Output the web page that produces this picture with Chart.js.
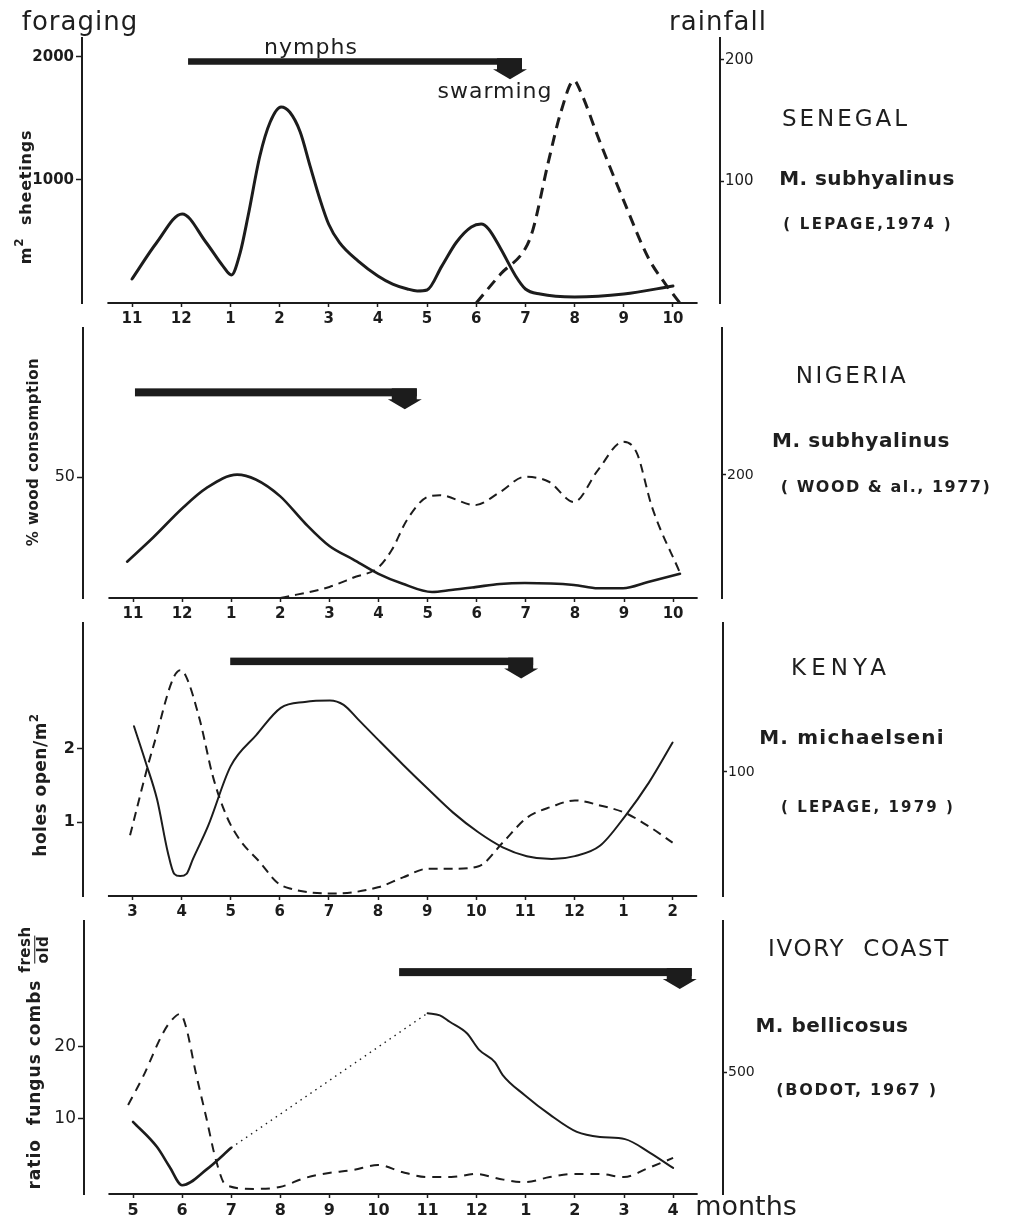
<!DOCTYPE html>
<html><head><meta charset="utf-8">
<script src="https://cdn.jsdelivr.net/npm/chart.js@4/dist/chart.umd.min.js"></script>
<style>
html,body{margin:0;padding:0;background:#fff;}
body{width:1011px;height:1220px;position:relative;overflow:hidden;font-family:"DejaVu Sans",sans-serif;color:#1e1e1e;}
canvas{position:absolute;left:0;}
.t{position:absolute;transform:translate(-50%,-50%);white-space:nowrap;line-height:1;}
.r{transform:translate(-50%,-50%) rotate(-90deg);}
.b{font-weight:bold;}
</style></head><body>
<canvas id="c1"></canvas>
<canvas id="c2"></canvas>
<canvas id="c3"></canvas>
<canvas id="c4"></canvas>

<div class="t" style="left:80px;top:21px;font-size:26px;letter-spacing:1px;">foraging</div>
<div class="t" style="left:718px;top:21px;font-size:26px;letter-spacing:1px;">rainfall</div>
<div class="t" style="left:311px;top:47px;font-size:22px;letter-spacing:1px;">nymphs</div>
<div class="t" style="left:495px;top:91px;font-size:22px;letter-spacing:1px;">swarming</div>
<div class="t" style="left:746px;top:1205px;font-size:27px;">months</div>

<div class="t" style="left:846px;top:118px;font-size:23px;letter-spacing:3px;">SENEGAL</div>
<div class="t b" style="left:867px;top:178px;font-size:20px;letter-spacing:0.4px;">M. subhyalinus</div>
<div class="t b" style="left:868px;top:224px;font-size:15px;letter-spacing:2.3px;">( LEPAGE,1974 )</div>

<div class="t" style="left:852px;top:375px;font-size:23px;letter-spacing:2.5px;">NIGERIA</div>
<div class="t b" style="left:861px;top:440px;font-size:20px;letter-spacing:0.6px;">M. subhyalinus</div>
<div class="t b" style="left:886px;top:487px;font-size:16px;letter-spacing:1.5px;">( WOOD &amp; al., 1977)</div>

<div class="t" style="left:841px;top:667px;font-size:23px;letter-spacing:5px;">KENYA</div>
<div class="t b" style="left:852px;top:737px;font-size:20px;letter-spacing:1.2px;">M. michaelseni</div>
<div class="t b" style="left:868px;top:807px;font-size:15px;letter-spacing:2.1px;">( LEPAGE, 1979 )</div>

<div class="t" style="left:859px;top:948px;font-size:23px;letter-spacing:1.7px;">IVORY&nbsp; COAST</div>
<div class="t b" style="left:832px;top:1025px;font-size:20px;letter-spacing:0.5px;">M. bellicosus</div>
<div class="t b" style="left:857px;top:1090px;font-size:16px;letter-spacing:1.7px;">(BODOT, 1967 )</div>

<div class="t r b" style="left:23px;top:197px;font-size:16px;letter-spacing:0.8px;">m<span style="font-size:12px;vertical-align:8px;">2</span>&nbsp; sheetings</div>
<div class="t r b" style="left:33px;top:452px;font-size:15px;letter-spacing:0.5px;">% wood consomption</div>
<div class="t r b" style="left:38px;top:785px;font-size:17px;letter-spacing:0.5px;">holes open/m<span style="font-size:12px;vertical-align:8px;">2</span></div>
<div class="t r b" style="left:35px;top:1058px;font-size:17px;display:flex;align-items:center;letter-spacing:1px;">ratio&nbsp; fungus combs&nbsp;<span style="display:inline-flex;flex-direction:column;align-items:center;font-size:15px;line-height:1.05;letter-spacing:0.5px;"><span>fresh</span><span style="border-top:1.5px solid #1e1e1e;padding-top:1px;">old</span></span></div>

<script>
// ================= DATA (month index along x, value on its own axis) =================
// Senegal, M. subhyalinus (LEPAGE, 1974)
const SENEGAL_MONTHS = ['11','12','1','2','3','4','5','6','7','8','9','10'];
const SENEGAL_FORAGING_TICKS = [1000, 2000];
const SENEGAL_RAIN_TICKS = [100, 200];
const SENEGAL_FORAGING = [[0,195],[0.5,490],[1.02,724],[1.5,496],[1.85,300],[2.02,228],[2.2,410],[2.36,707],[2.6,1195],[2.81,1471],[3.03,1593],[3.21,1550],[3.42,1390],[3.62,1115],[3.82,845],[4.0,640],[4.22,490],[4.6,340],[5.0,220],[5.3,154],[5.6,114],[5.8,98],[6.0,106],[6.3,300],[6.6,496],[6.9,618],[7.1,642],[7.25,602],[7.5,439],[7.8,220],[8.0,114],[8.3,73],[9.0,49],[10.0,73],[11.0,138]];
const SENEGAL_RAIN = [[7,0],[7.5,24],[8,45],[8.15,60],[8.46,115],[8.72,157],[8.99,183],[9.11,175],[9.5,134],[10,84],[10.5,37],[10.84,16],[11.14,0]];
const SENEGAL_NYMPHS = [1.14, 7.93];

// Nigeria, M. subhyalinus (WOOD & al., 1977)
const NIGERIA_MONTHS = ['11','12','1','2','3','4','5','6','7','8','9','10'];
const NIGERIA_WOOD_TICKS = [50];
const NIGERIA_RAIN_TICKS = [200];
const NIGERIA_WOOD = [[-0.12,15],[0.41,25],[1.0,37],[1.5,45.5],[2.12,51],[2.5,49],[3.0,42],[3.5,31],[4.0,21.5],[4.48,16],[5.0,10],[5.48,6],[6.09,2.5],[6.48,3.3],[6.97,4.5],[7.47,5.8],[7.98,6.2],[8.98,5.4],[9.47,4],[9.98,4],[10.49,6.6],[11.14,10]];
const NIGERIA_RAIN = [[3.0,0],[4.0,18],[4.48,33],[5.0,50],[5.27,78],[5.58,127],[5.99,164],[6.25,167],[6.97,151],[7.47,172],[7.98,197],[8.47,189],[8.98,156],[9.47,208],[9.98,254],[10.26,236],[10.57,148],[11.14,41]];
const NIGERIA_NYMPHS = [0.04, 5.78];

// Kenya, M. michaelseni (LEPAGE, 1979)
const KENYA_MONTHS = ['3','4','5','6','7','8','9','10','11','12','1','2'];
const KENYA_HOLES_TICKS = [1, 2];
const KENYA_RAIN_TICKS = [100];
const KENYA_HOLES = [[0.03,2.30],[0.27,1.81],[0.5,1.31],[0.72,0.59],[0.85,0.3],[0.97,0.27],[1.1,0.3],[1.23,0.5],[1.54,0.95],[2.0,1.76],[2.52,2.18],[3.02,2.55],[3.51,2.63],[4.02,2.65],[4.3,2.59],[4.6,2.39],[5.0,2.12],[5.51,1.78],[6.02,1.45],[6.53,1.13],[7.05,0.86],[7.54,0.66],[8.03,0.54],[8.54,0.50],[9.01,0.54],[9.52,0.68],[10.03,1.08],[10.52,1.54],[11.0,2.08]];
const KENYA_RAIN = [[-0.05,49],[0.42,120],[0.97,182],[1.09,177],[1.37,142],[1.64,96],[1.92,64],[2.19,45],[2.6,27],[2.94,11],[3.21,6],[4.09,2],[5.0,7],[5.51,15],[6.02,22],[6.53,22],[7.05,24],[7.54,43],[8.03,63],[8.54,72],[9.01,77],[9.52,73],[10.03,67],[10.52,56],[11.0,43]];
const KENYA_NYMPHS = [1.99, 8.16];

// Ivory Coast, M. bellicosus (BODOT, 1967)
const IVORY_MONTHS = ['5','6','7','8','9','10','11','12','1','2','3','4'];
const IVORY_RATIO_TICKS = [10, 20];
const IVORY_RAIN_TICKS = [500];
const IVORY_RATIO_EARLY = [[0,9.6],[0.49,6.1],[0.75,3.3],[1.0,0.8],[1.5,3.0],[2.0,6.0]];
const IVORY_RATIO_GAP = [[2.0,6.0],[6.0,24.7]];
const IVORY_RATIO_LATE = [[6.0,24.7],[6.25,24.4],[6.45,23.5],[6.8,21.9],[7.05,19.6],[7.37,17.9],[7.53,16.1],[7.98,13.3],[8.49,10.6],[9.04,8.2],[9.51,7.5],[10.02,7.2],[10.53,5.3],[11.0,3.2]];
const IVORY_RAIN = [[-0.1,364],[0.2,479],[0.59,653],[0.75,705],[0.96,740],[1.08,686],[1.28,496],[1.49,314],[1.69,136],[1.89,33],[2.48,17],[2.99,25],[3.5,62],[3.99,83],[4.48,95],[4.99,116],[5.48,87],[5.99,66],[6.48,66],[6.99,79],[7.47,58],[7.98,45],[8.49,66],[8.98,79],[9.49,79],[10.0,66],[10.49,103],[11.0,145]];
const IVORY_NYMPHS = [5.42, 11.38];

// ================= RENDERING =================
const INK = '#1c1c1c';
const FONT = '"DejaVu Sans", sans-serif';

const xAxisLine = {
  id: 'xAxisLine',
  beforeDatasetsDraw(chart, args, o) {
    const {ctx, chartArea, scales} = chart;
    const x = scales.x;
    ctx.save();
    ctx.strokeStyle = INK; ctx.lineWidth = 2;
    ctx.beginPath();
    ctx.moveTo(x.getPixelForValue(o.from), chartArea.bottom);
    ctx.lineTo(x.getPixelForValue(o.to), chartArea.bottom);
    ctx.stroke();
    ctx.restore();
  }
};

const periodArrow = {
  id: 'periodArrow',
  afterDatasetsDraw(chart, args, o) {
    const {ctx, scales} = chart;
    const x1 = scales.x.getPixelForValue(o.from);
    const x2 = scales.x.getPixelForValue(o.to);
    const yc = scales.y.getPixelForValue(o.level);
    const T = yc - o.thickness / 2;
    ctx.save();
    ctx.fillStyle = INK;
    ctx.fillRect(x1, T, x2 - x1, o.thickness);
    ctx.fillRect(x2 - 25, T, 25, 12);
    ctx.beginPath();
    ctx.moveTo(x2 - 29, T + 11);
    ctx.lineTo(x2 + 5, T + 11);
    ctx.lineTo(x2 - 12, T + 21);
    ctx.closePath();
    ctx.fill();
    ctx.restore();
  }
};

const toXY = arr => arr.map(([x, y]) => ({x, y}));

const PANELS = [
  { id:'c1', top:0, height:330, left:82, right:720, areaTop:38, areaBottom:303, x0:132, step:49.18,
    yMin:0, yMax:2154, y2Min:0, y2Max:218,
    months:SENEGAL_MONTHS, yTicks:SENEGAL_FORAGING_TICKS, y2Ticks:SENEGAL_RAIN_TICKS,
    solid:[SENEGAL_FORAGING], dotted:null, dashed:SENEGAL_RAIN, nymphs:SENEGAL_NYMPHS,
    level:1963, thick:6.5, solidW:3, dashW:3, dash:[11,7],
    yFont:{size:15, weight:'bold'}, y2Font:{size:15}, xFont:{size:15, weight:'bold'} },
  { id:'c2', top:312, height:318, left:83, right:722, areaTop:328, areaBottom:598, x0:133, step:49.1,
    yMin:0, yMax:111.6, y2Min:0, y2Max:439,
    months:NIGERIA_MONTHS, yTicks:NIGERIA_WOOD_TICKS, y2Ticks:NIGERIA_RAIN_TICKS,
    solid:[NIGERIA_WOOD], dotted:null, dashed:NIGERIA_RAIN, nymphs:NIGERIA_NYMPHS,
    level:85, thick:8, solidW:2.6, dashW:2, dash:[9,6],
    yFont:{size:16}, y2Font:{size:14}, xFont:{size:15, weight:'bold'} },
  { id:'c3', top:605, height:319, left:83, right:723, areaTop:623, areaBottom:896, x0:132.5, step:49.1,
    yMin:0, yMax:3.70, y2Min:0, y2Max:220,
    months:KENYA_MONTHS, yTicks:KENYA_HOLES_TICKS, y2Ticks:KENYA_RAIN_TICKS,
    solid:[KENYA_HOLES], dotted:null, dashed:KENYA_RAIN, nymphs:KENYA_NYMPHS,
    level:3.18, thick:7.5, solidW:2, dashW:2, dash:[9,6],
    yFont:{size:16, weight:'bold'}, y2Font:{size:14}, xFont:{size:15, weight:'bold'} },
  { id:'c4', top:903, height:317, left:84, right:723, areaTop:921, areaBottom:1194, x0:133, step:49.1,
    yMin:-0.42, yMax:37.5, y2Min:-4, y2Max:1124,
    months:IVORY_MONTHS, yTicks:IVORY_RATIO_TICKS, y2Ticks:IVORY_RAIN_TICKS,
    solid:[IVORY_RATIO_EARLY, IVORY_RATIO_LATE], dotted:IVORY_RATIO_GAP, dashed:IVORY_RAIN, nymphs:IVORY_NYMPHS,
    level:30.4, thick:8, solidW:2, dashW:2, dash:[9,7],
    yFont:{size:17}, y2Font:{size:14}, xFont:{size:16, weight:'bold'} }
];

function makePanel(p) {
  const canvas = document.getElementById(p.id);
  canvas.width = 1011; canvas.height = p.height;
  canvas.style.top = p.top + 'px';
  const xMin = -(p.x0 - p.left) / p.step;
  const xMax = (p.right - p.x0) / p.step;
  const datasets = [];
  p.solid.forEach((d, i) => datasets.push({
    data: toXY(d), yAxisID:'y', borderColor:INK, borderWidth: (p.id === 'c4' && i === 0) ? 2.6 : p.solidW,
    cubicInterpolationMode:'monotone', pointRadius:0, fill:false, borderCapStyle:'round', borderJoinStyle:'round'
  }));
  if (p.dotted) datasets.push({
    data: toXY(p.dotted), yAxisID:'y', borderColor:INK, borderWidth:1.4, borderDash:[1.5,4.5],
    tension:0, pointRadius:0, fill:false
  });
  datasets.push({
    data: toXY(p.dashed), yAxisID:'y2', borderColor:INK, borderWidth:p.dashW, borderDash:p.dash,
    cubicInterpolationMode:'monotone', pointRadius:0, fill:false
  });
  const tickGrid = len => ({drawOnChartArea:false, drawTicks:true, tickLength:len, tickColor:INK, tickWidth:1.5});
  const plain = v => String(v);
  new Chart(canvas, {
    type:'line',
    data:{datasets},
    plugins:[xAxisLine, periodArrow],
    options:{
      responsive:false, animation:false, devicePixelRatio:1,
      layout:{padding:{top:p.areaTop - p.top, left:0, right:0, bottom:0}},
      plugins:{
        legend:{display:false}, tooltip:{enabled:false},
        xAxisLine:{from:-0.5, to:11.5},
        periodArrow:{from:p.nymphs[0], to:p.nymphs[1], level:p.level, thickness:p.thick}
      },
      scales:{
        x:{
          type:'linear', position:'bottom', min:xMin, max:xMax,
          afterFit: s => { s.height = p.top + p.height - p.areaBottom; },
          afterBuildTicks: s => { s.ticks = p.months.map((_, i) => ({value:i})); },
          ticks:{callback: v => p.months[Math.round(v)], autoSkip:false, maxRotation:0, minRotation:0,
                 padding:3, color:INK, font:Object.assign({family:FONT}, p.xFont)},
          grid: tickGrid(4),
          border:{display:false}
        },
        y:{
          position:'left', min:p.yMin, max:p.yMax,
          afterFit: s => { s.width = p.left; },
          afterBuildTicks: s => { s.ticks = p.yTicks.map(v => ({value:v})); },
          ticks:{callback: plain, padding:2, color:INK, font:Object.assign({family:FONT}, p.yFont)},
          grid: tickGrid(6),
          border:{display:true, color:INK, width:2}
        },
        y2:{
          position:'right', min:p.y2Min, max:p.y2Max,
          afterFit: s => { s.width = 1011 - p.right; },
          afterBuildTicks: s => { s.ticks = p.y2Ticks.map(v => ({value:v})); },
          ticks:{callback: plain, padding:1, color:INK, font:Object.assign({family:FONT}, p.y2Font)},
          grid: tickGrid(4),
          border:{display:true, color:INK, width:2}
        }
      }
    }
  });
}
PANELS.forEach(makePanel);
</script>
</body></html>
